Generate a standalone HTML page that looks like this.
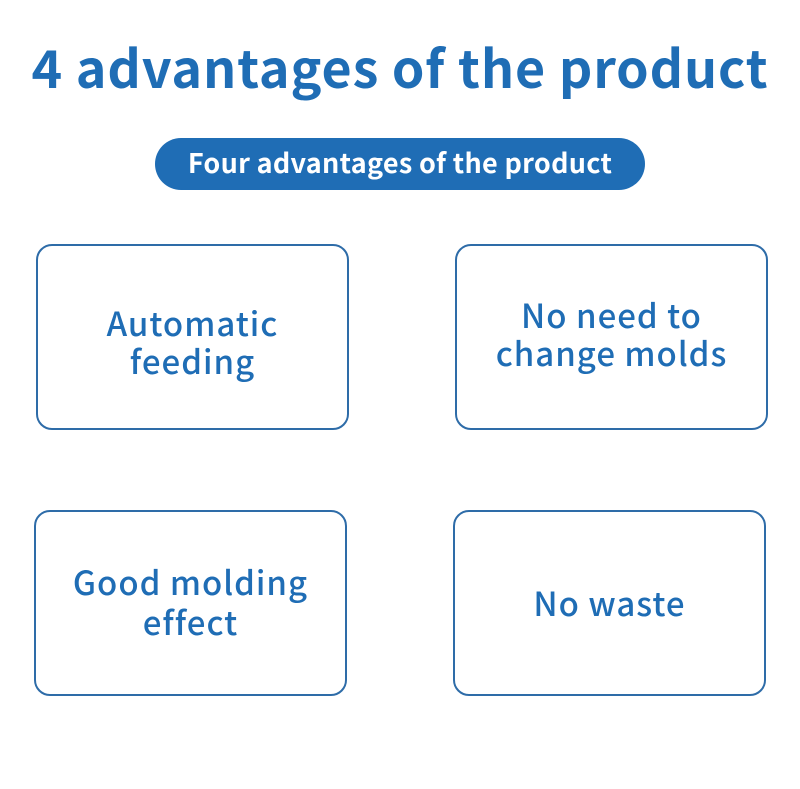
<!DOCTYPE html>
<html><head><meta charset="utf-8"><style>
html,body{margin:0;padding:0;background:#fff;}
body{width:800px;height:789px;position:relative;overflow:hidden;font-family:"Noto Sans CJK SC","Liberation Sans",sans-serif;color:#1f6db5;}
.title{position:absolute;left:0;width:800px;top:28px;text-align:center;font-size:52px;font-weight:700;line-height:76px;letter-spacing:0.9px;white-space:nowrap;}
.pill{position:absolute;left:155px;top:138px;width:490px;height:52px;border-radius:26px;background:#1f6db5;color:#fff;font-size:27px;font-weight:700;text-align:center;line-height:48px;letter-spacing:0.3px;}
.box{position:absolute;width:309px;border:2px solid #2e6ca8;border-radius:16px;display:flex;align-items:center;justify-content:center;text-align:center;font-size:33px;font-weight:500;line-height:38px;letter-spacing:1px;}
</style></head><body>
<div class="title">4 advantages of the product</div>
<div class="pill">Four advantages of the product</div>
<div class="box" style="left:36px;top:244px;padding-top:8px;height:174px;">Automatic<br>feeding</div>
<div class="box" style="left:455px;top:244px;padding-bottom:8px;height:174px;">No need to<br>change molds</div>
<div class="box" style="left:34px;top:510px;padding-bottom:4px;height:178px;line-height:40px;">Good molding<br>effect</div>
<div class="box" style="left:453px;top:510px;padding-bottom:2px;height:180px;">No waste</div>
</body></html>
